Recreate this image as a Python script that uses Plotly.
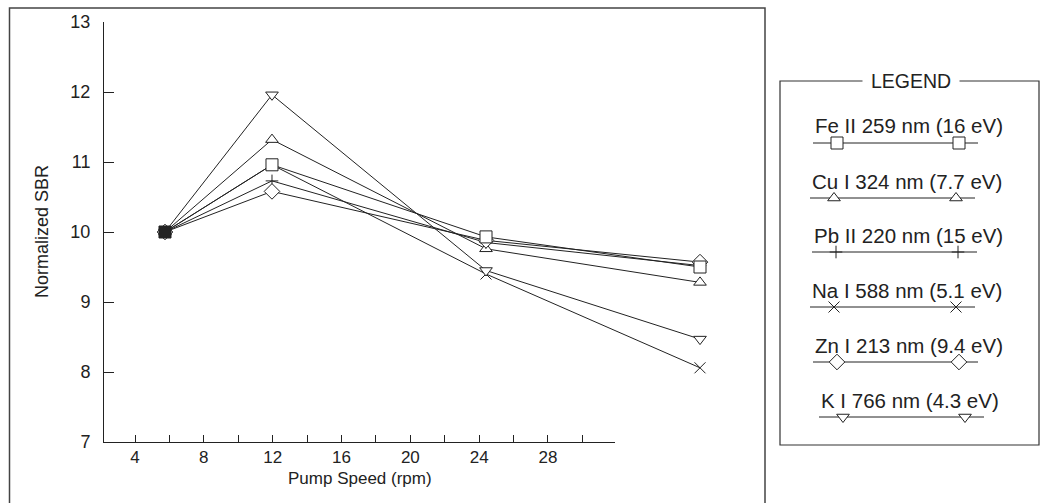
import plotly.graph_objects as go

# ---------------- data ----------------
pump_speed = [5, 10, 20, 30]
series_names = [
    "Fe II 259 nm (16 eV)",
    "Cu I 324 nm (7.7 eV)",
    "Pb II 220 nm (15 eV)",
    "Na I 588 nm (5.1 eV)",
    "Zn I 213 nm (9.4 eV)",
    "K I 766 nm (4.3 eV)",
]
fe_ii = [10.0, 10.96, 9.93, 9.50]
cu_i = [10.0, 11.32, 9.76, 9.28]
pb_ii = [10.0, 10.73, 9.85, 9.52]
na_i = [10.0, 10.96, 9.40, 8.06]
zn_i = [10.0, 10.58, 9.88, 9.57]
k_i = [10.0, 11.96, 9.45, 8.47]
series_values = [fe_ii, cu_i, pb_ii, na_i, zn_i, k_i]

x_tick_vals = [4, 8, 12, 16, 20, 24, 28]
y_tick_vals = [7, 8, 9, 10, 11, 12, 13]

# ---------------- styles ----------------
INK = "#222222"
FONT = "Liberation Sans, Arial, Helvetica, sans-serif"
symbols = ["square", "triangle-up", "cross-thin-open", "x-thin-open", "diamond", "triangle-down"]
sizes = [12, 11, 9, 11, 12, 11]
fills = ["white", "white", INK, INK, "white", "white"]
draw_order = [1, 2, 3, 4, 5, 0]  # Fe drawn last (dense black blob at the start point)

W, H = 1047, 503


def px(v):
    return v / W


def py(v):
    return 1 - v / H


fig = go.Figure()

# empty trace to register the visible-axes subplot
fig.add_trace(go.Scatter(x=[], y=[], xaxis="x", yaxis="y", showlegend=False))

for i in draw_order:
    name, vals, sym, sz, fc = series_names[i], series_values[i], symbols[i], sizes[i], fills[i]
    if i == 0:
        fc = [INK] + ["white"] * (len(vals) - 1)
    fig.add_trace(go.Scatter(
        x=pump_speed, y=vals, name=name, mode="lines+markers",
        line=dict(color=INK, width=1),
        marker=dict(symbol=sym, size=sz, color=fc,
                    line=dict(color=INK, width=1)),
        cliponaxis=False, showlegend=False, xaxis="x2", yaxis="y2",
    ))

# ---------------- custom legend (pixel-space overlay axes) ----------------
legend_line_y = [143, 198, 252, 307, 362, 417]
legend_shift = [0, -3, -1, -3, 0, 6]
line_x0, line_x1 = 813, 978
mk_x0, mk_x1 = 837, 959
annotations = []
for i, (name, sym, sz, fc) in enumerate(zip(series_names, symbols, sizes, fills)):
    ly = legend_line_y[i]
    s = legend_shift[i]
    fig.add_trace(go.Scatter(
        x=[line_x0 + s, line_x1 + s], y=[ly, ly], mode="lines",
        line=dict(color=INK, width=1), showlegend=False,
        xaxis="x3", yaxis="y3", hoverinfo="skip",
    ))
    fig.add_trace(go.Scatter(
        x=[mk_x0 + s, mk_x1 + s], y=[ly, ly], mode="markers",
        marker=dict(symbol=sym, size=sz, color=fc,
                    line=dict(color=INK, width=1)),
        showlegend=False, xaxis="x3", yaxis="y3", hoverinfo="skip",
        cliponaxis=False,
    ))
    annotations.append(dict(
        x=px(line_x0 + s), y=py(ly - 17), xref="paper", yref="paper",
        xanchor="left", yanchor="middle", text=name, showarrow=False,
        font=dict(family=FONT, size=20.5, color=INK),
    ))

annotations.append(dict(
    x=px(911), y=py(81), xref="paper", yref="paper", xanchor="center",
    yanchor="middle", text="LEGEND", showarrow=False, bgcolor="white",
    borderpad=8, font=dict(family=FONT, size=19.5, color=INK),
))
annotations.append(dict(
    x=px(42), y=py(232), xref="paper", yref="paper", xanchor="center",
    yanchor="middle", text="Normalized SBR", textangle=-90, showarrow=False,
    font=dict(family=FONT, size=18, color=INK),
))
annotations.append(dict(
    x=px(360), y=py(478), xref="paper", yref="paper", xanchor="center",
    yanchor="middle", text="Pump Speed (rpm)", showarrow=False,
    font=dict(family=FONT, size=17, color=INK),
))

shapes = [
    dict(type="rect", xref="paper", yref="paper", x0=px(9.5), x1=px(765),
         y0=-0.05, y1=py(8), line=dict(color="#444444", width=1.5)),
    dict(type="rect", xref="paper", yref="paper", x0=px(780), x1=px(1039),
         y0=py(445), y1=py(81), line=dict(color="#333333", width=1.2)),
]

fig.update_layout(
    width=W, height=H, autosize=False,
    margin=dict(l=0, r=0, t=0, b=0, pad=0),
    paper_bgcolor="white", plot_bgcolor="rgba(0,0,0,0)",
    font=dict(family=FONT, color=INK),
    showlegend=False,
    xaxis=dict(domain=[px(104), px(615)], range=[2.198, 31.894],
               anchor="y", tickvals=x_tick_vals, ticks="inside", ticklen=7,
               tickcolor=INK, showline=True, linecolor=INK, linewidth=1,
               showgrid=False, zeroline=False, automargin=False,
               minor=dict(dtick=2, tick0=0, ticks="inside", ticklen=7,
                          tickcolor=INK, showgrid=False),
               tickfont=dict(family=FONT, size=17, color=INK)),
    yaxis=dict(domain=[py(442), py(22)], range=[7, 13], anchor="x",
               tickvals=y_tick_vals, ticks="inside", ticklen=10,
               tickcolor=INK, showline=True, linecolor=INK, linewidth=1,
               showgrid=False, zeroline=False, ticklabelstandoff=9,
               automargin=False,
               tickfont=dict(family=FONT, size=18, color=INK)),
    xaxis2=dict(domain=[px(104), px(740)], range=[2.150, 31.869],
                visible=False, anchor="y2"),
    yaxis2=dict(domain=[py(442), py(22)], range=[7, 13],
                visible=False, anchor="x2"),
    xaxis3=dict(domain=[0, 1], range=[0, W], visible=False, anchor="y3"),
    yaxis3=dict(domain=[0, 1], range=[H, 0], visible=False, anchor="x3"),
    annotations=annotations,
    shapes=shapes,
)

fig.write_html(
    "out.html",
    config={"displayModeBar": False},
    post_script="document.body.style.margin='0';document.body.style.padding='0';"
                "document.body.style.overflow='hidden';",
)
